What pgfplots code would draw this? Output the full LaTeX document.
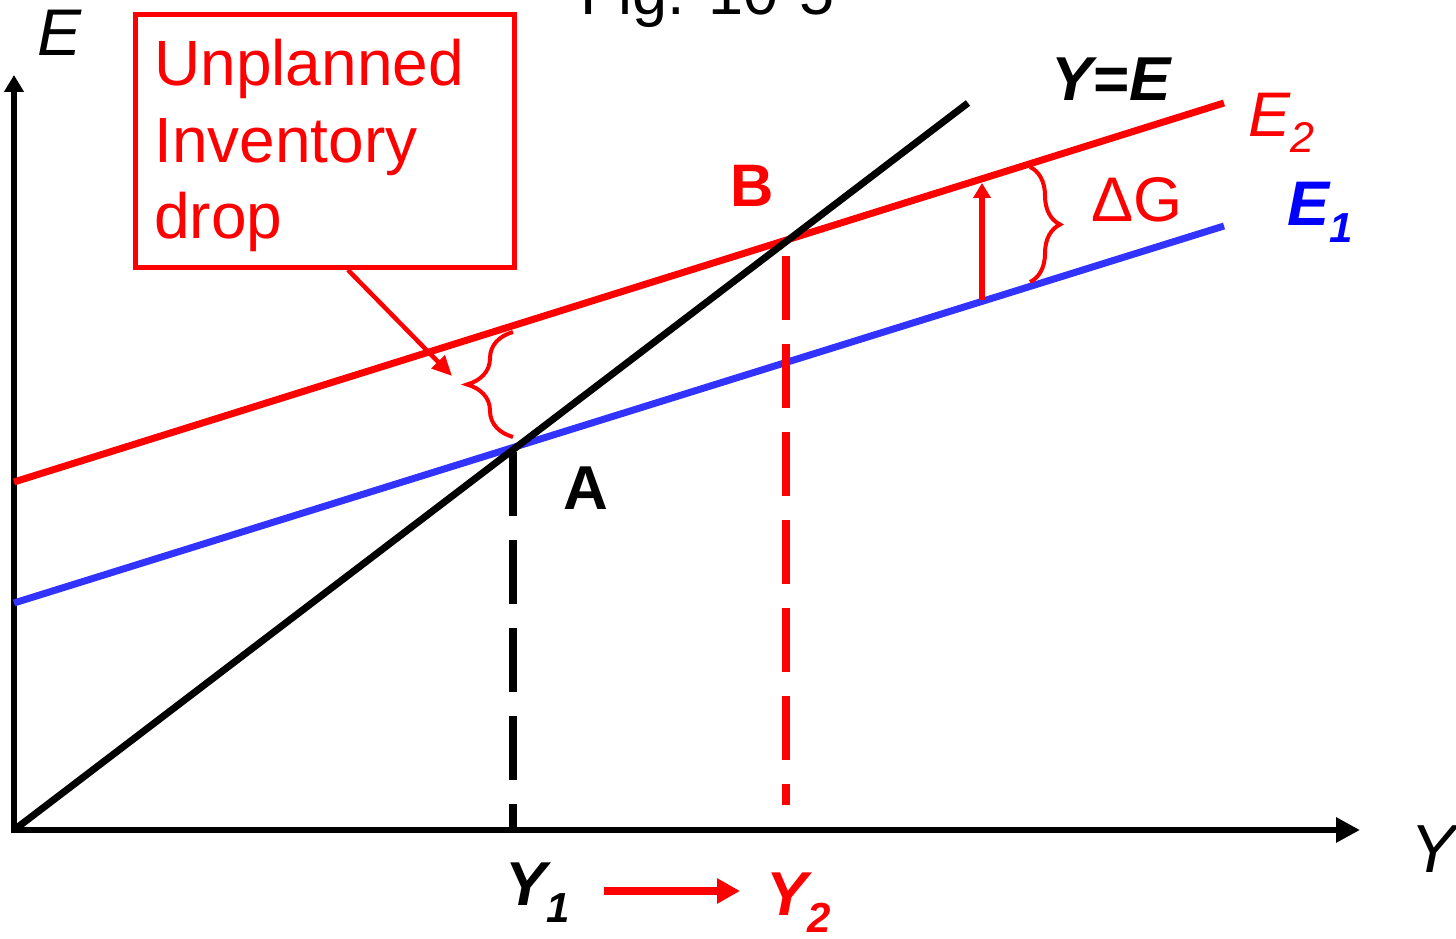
\documentclass[border=0pt]{standalone}
\usepackage{pgfplots}
\pgfplotsset{compat=1.18}
\usepackage{fontspec}
\setmainfont{Liberation Sans}
\usetikzlibrary{arrows.meta,decorations.pathreplacing}
\definecolor{eblue}{RGB}{51,51,255}
\definecolor{tblue}{RGB}{0,0,255}
\definecolor{ered}{RGB}{255,0,0}
\newcommand\fs[1]{\fontsize{#1}{#1}\selectfont}
\begin{document}
\begin{tikzpicture}
\begin{axis}[x=0.5pt, y=0.5pt, xmin=0, xmax=1456, ymin=0, ymax=938,
  hide axis, clip=false, scale only axis]
\path (axis cs:0,0) rectangle (axis cs:1456,938);
% axes
\addplot[black, line width=2.75pt, -{Triangle[length=8.5pt,width=9.5pt]}] coordinates {(14,105) (14,863)};
\addplot[black, line width=3pt, -{Triangle[length=12pt,width=12pt]}] coordinates {(11,108) (1360,108)};
% E1, E2, Y=E
\addplot[eblue, line width=3.5pt] coordinates {(14,335) (1224,712)};
\addplot[ered, line width=3.5pt] coordinates {(14,456) (1224,835)};
\addplot[black, line width=3.5pt] coordinates {(14,108) (968,835)};
% dashed drops
\addplot[black, line width=3.75pt, dash pattern=on 32pt off 12pt] coordinates {(513,486) (513,108)};
\addplot[ered, line width=3.75pt, dash pattern=on 32pt off 12pt] coordinates {(786,682) (786,133)};
% shift arrow
\addplot[ered, line width=2.75pt, -{Triangle[length=7.5pt,width=8.5pt]}] coordinates {(982,638) (982,755)};
% box arrow
\addplot[ered, line width=2.25pt, -{Triangle[length=10pt,width=9pt]}] coordinates {(348,668) (452,562)};
% Y1 -> Y2 arrow
\addplot[ered, line width=4pt, -{Triangle[length=11.5pt,width=12pt]}] coordinates {(604,47) (740,47)};
% braces
\draw[ered, line width=2pt, decorate, decoration={brace, amplitude=23pt, aspect=0.5}] (axis cs:513,501) -- (axis cs:513,606);
\draw[ered, line width=2pt, decorate, decoration={brace, amplitude=15pt, aspect=0.5}] (axis cs:1030,771) -- (axis cs:1030,656);
% box
\draw[ered, line width=2.5pt] (axis cs:135.5,923.5) rectangle (axis cs:514,670);
\node[anchor=base west, inner sep=0, text=ered] at (axis cs:154,852) {\fs{32}Unplanned};
\node[anchor=base west, inner sep=0, text=ered] at (axis cs:154,775) {\fs{32}Inventory};
\node[anchor=base west, inner sep=0, text=ered] at (axis cs:154,699) {\fs{32}drop};
% labels
\node[overlay, anchor=base west, inner sep=0, text=black] at (axis cs:580,923) {\fs{31.5}Fig. 10-5};
\node[anchor=base west, inner sep=0, text=black] at (axis cs:37,882) {\fs{33}\itshape E};
\node[overlay, anchor=base west, inner sep=0, text=black] at (axis cs:1410,66) {\fs{34}\itshape Y};
\node[anchor=base, inner sep=0, text=black] at (axis cs:1111,837) {\fs{31}\bfseries\itshape Y=E};
\node[anchor=base west, inner sep=0, text=ered] at (axis cs:1248,801) {\fs{31.5}\itshape E\raisebox{-8pt}{\fs{21.5}2}};
\node[anchor=base west, inner sep=0, text=tblue] at (axis cs:1287,712) {\fs{31.5}\bfseries\itshape E\raisebox{-8.5pt}{\fs{21}1}};
\node[anchor=base, inner sep=0, text=ered] at (axis cs:752,731) {\fs{30}\bfseries B};
\node[anchor=base, inner sep=0, text=black] at (axis cs:586,428) {\fs{31}\bfseries A};
\node[anchor=base, inner sep=0, text=ered] at (axis cs:1137,716) {\fs{31.5}ΔG};
\node[anchor=base west, inner sep=0, text=black] at (axis cs:505,33) {\fs{31}\bfseries\itshape Y\raisebox{-8.5pt}{\fs{21}1}};
\node[anchor=base west, inner sep=0, text=ered] at (axis cs:766,23) {\fs{31}\bfseries\itshape Y\raisebox{-8.5pt}{\fs{21}2}};
\end{axis}
\end{tikzpicture}
\end{document}
